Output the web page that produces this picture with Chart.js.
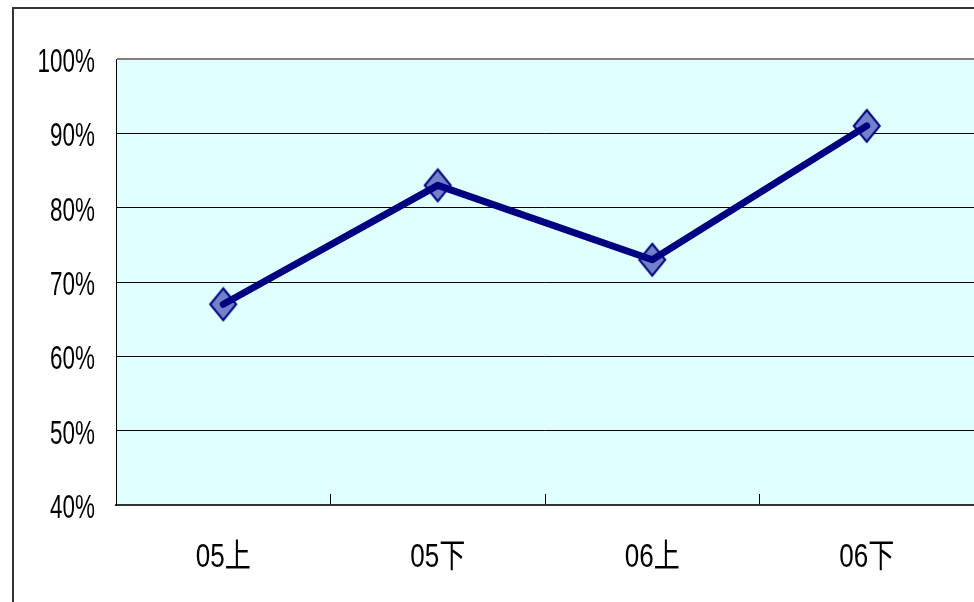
<!DOCTYPE html>
<html>
<head>
<meta charset="utf-8">
<script src="https://cdn.jsdelivr.net/npm/chart.js@4/dist/chart.umd.min.js"></script>
<style>
  html, body { margin: 0; padding: 0; background: #ffffff; }
  #wrap { width: 974px; height: 602px; position: relative; }
</style>
</head>
<body>
<div id="wrap"><canvas id="c" width="974" height="602"></canvas></div>
<script>
// Half-year periods and their rates (%)
const periods = ['05上', '05下', '06上', '06下'];
const rates = [67, 83, 73, 91];
const yTicks = [40, 50, 60, 70, 80, 90, 100];

const FONT = "'Liberation Sans', Arial, 'Noto Sans CJK SC', sans-serif";

// Diamond marker drawn once on a small canvas, used as the point style
function makeDiamond() {
  const w = 30, h = 36;
  const cv = document.createElement('canvas');
  cv.width = w; cv.height = h;
  const g = cv.getContext('2d');
  g.beginPath();
  g.moveTo(w / 2, 2);
  g.lineTo(w - 2, h / 2);
  g.lineTo(w / 2, h - 2);
  g.lineTo(2, h / 2);
  g.closePath();
  g.fillStyle = '#7282c8';
  g.fill();
  g.lineWidth = 2;
  g.strokeStyle = '#000080';
  g.stroke();
  return cv;
}

// Draw a scale's tick labels in a condensed face: each label is squeezed
// horizontally (canvas maxWidth) and optionally nudged down.
function condenseLabels(scale, factor, dy) {
  if (scale._condensed) return;
  scale._condensed = true;
  const orig = scale.drawLabels;
  scale.drawLabels = function (area) {
    const ctx = this.ctx;
    const base = CanvasRenderingContext2D.prototype.fillText;
    ctx.fillText = function (t, x, y, mw) {
      const w = this.measureText(t).width * factor;
      return base.call(this, t, x, y + dy, mw !== undefined ? Math.min(mw, w) : w);
    };
    try { orig.call(this, area); } finally { delete ctx.fillText; }
  };
}

// Page frame and cyan plot background
const framePlugin = {
  id: 'frame',
  beforeDraw(chart) {
    const ctx = chart.ctx;
    const a = chart.chartArea;
    ctx.save();
    ctx.fillStyle = '#ffffff';
    ctx.fillRect(0, 0, chart.width, chart.height);
    ctx.fillStyle = '#e0ffff';
    ctx.fillRect(a.left, a.top, a.right - a.left, a.bottom - a.top);
    ctx.strokeStyle = '#333333';
    ctx.lineWidth = 2;
    ctx.strokeRect(13, 8, 2000, 2000);
    ctx.restore();
  }
};

new Chart(document.getElementById('c'), {
  type: 'line',
  data: {
    labels: periods,
    datasets: [
      {
        data: rates,
        borderColor: '#000080',
        borderWidth: 7,
        borderCapStyle: 'round',
        borderJoinStyle: 'round',
        pointRadius: 0,
        fill: false,
        order: 0
      },
      {
        data: rates,
        showLine: false,
        pointStyle: makeDiamond(),
        pointRadius: 14,
        order: 1
      }
    ]
  },
  options: {
    responsive: false,
    animation: false,
    events: [],
    layout: { autoPadding: false, padding: { top: 59, right: -2, bottom: 0, left: 0 } },
    plugins: {
      legend: { display: false },
      tooltip: { enabled: false }
    },
    scales: {
      x: {
        offset: true,
        grid: {
          offset: true,
          drawOnChartArea: false,
          drawTicks: true,
          tickLength: -11,
          color: '#000000',
          lineWidth: 1
        },
        border: { display: true, color: '#333333', width: 2 },
        ticks: {
          color: '#000000',
          font: { family: FONT, size: 33 },
          padding: 44,
          maxRotation: 0
        },
        afterFit(scale) {
          scale.height = 97;
          scale.paddingLeft = 0;
          scale.paddingRight = 0;
          condenseLabels(scale, 0.79, 0);
        }
      },
      y: {
        min: 40,
        max: 100,
        afterBuildTicks(scale) { scale.ticks = yTicks.map(v => ({ value: v })); },
        grid: {
          drawTicks: false,
          tickLength: 0,
          color: ctx => (ctx.tick && ctx.tick.value === 100) ? '#808080' : '#000000',
          lineWidth: ctx => (ctx.tick && ctx.tick.value === 100) ? 2 : 1
        },
        border: { display: true, color: '#000000', width: 1 },
        ticks: {
          color: '#000000',
          font: { family: FONT, size: 33 },
          padding: 21,
          callback: v => v + '%'
        },
        afterFit(scale) {
          scale.width = 116;
          condenseLabels(scale, 0.68, 4);
        }
      }
    }
  },
  plugins: [framePlugin]
});
</script>
</body>
</html>
